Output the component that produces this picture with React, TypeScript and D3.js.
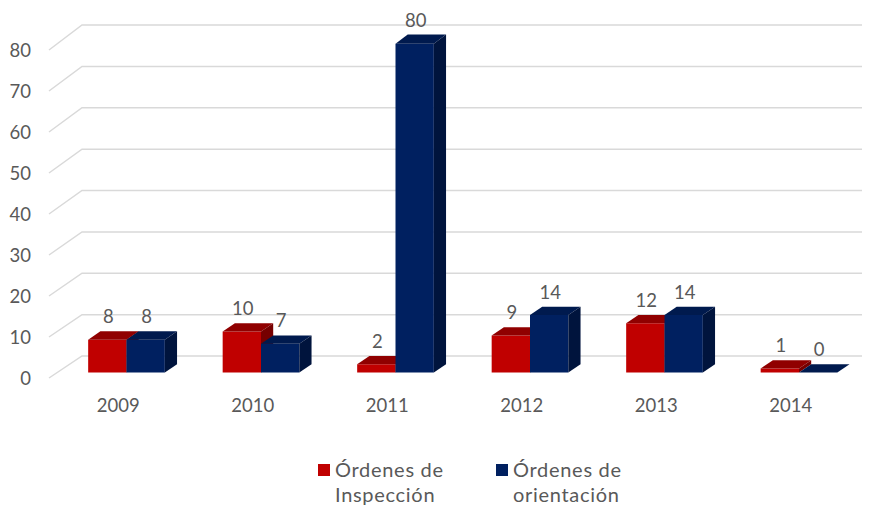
import React from 'react';
import * as d3 from 'd3';

const years = ['2009', '2010', '2011', '2012', '2013', '2014'];
const inspeccion = [8, 10, 2, 9, 12, 1];
const orientacion = [8, 7, 80, 14, 14, 0];
const seriesNames = ['Órdenes de Inspección', 'Órdenes de orientación'];
const yTicks = [0, 10, 20, 30, 40, 50, 60, 70, 80];

const width = 874;
const height = 510;
const font = 'Lato, "Open Sans", sans-serif';
const textColor = '#595959';

// colours per series: front, top, side
const palette = [
    { front: '#c00000', top: '#900000', side: '#760000' },
    { front: '#002060', top: '#001a4e', side: '#00143d' }
];

// depth of the 3d box and where the bars sit inside it
const depthX = 33;
const barNear = 0.25;
const barFar = 0.62;

const yFront = d3.scaleLinear().domain([0, 80]).range([378, 50]);
const yBack = d3.scaleLinear().domain([0, 80]).range([356, 25]);

const xBand = d3.scaleBand().domain(years).range([51, 858]).paddingInner(0.43).paddingOuter(0.215);
const xSeries = d3.scaleBand().domain(['0', '1']).range([0, xBand.bandwidth()]);

// project a point of the front plane to depth d (0 = front, 1 = back wall)
const project = (x: number, v: number, d: number): [number, number] => [
    x + depthX * d,
    yFront(v) + (yBack(v) - yFront(v)) * d
];

const poly = (pts: [number, number][]) => d3.line()(pts) + 'Z';

const Bar = ({ year, s, v }: { year: string; s: number; v: number }) => {
    const x0 = (xBand(year) || 0) + (xSeries(String(s)) || 0);
    const x1 = x0 + xSeries.bandwidth();
    const c = palette[s];
    const front = poly([project(x0, 0, barNear), project(x1, 0, barNear), project(x1, v, barNear), project(x0, v, barNear)]);
    const top = poly([project(x0, v, barNear), project(x1, v, barNear), project(x1, v, barFar), project(x0, v, barFar)]);
    const side = poly([project(x1, 0, barNear), project(x1, 0, barFar), project(x1, v, barFar), project(x1, v, barNear)]);
    const lx = (x0 + x1) / 2 + depthX * barNear + 1;
    const ly = project(x0, v, barFar)[1] - 8;
    return (
        <g>
            <path d={front} fill={c.front} />
            <path d={top} fill={c.top} />
            <path d={side} fill={c.side} />
            <text x={lx} y={ly} textAnchor="middle" fontSize={18.5} fill={textColor}>{v}</text>
        </g>
    );
};

const App = () => {
    const wallLeft = 49;
    const wallRight = 862;
    return (
        <svg width={width} height={height} style={{ position: 'absolute', left: 0, top: 0, background: '#fff' }}
            fontFamily={font}>
            <g className="grid" stroke="#d9d9d9" strokeWidth={1.5} fill="none">
                {yTicks.map(t => {
                    const a = project(wallLeft, t, 0);
                    const b = project(wallLeft, t, 1);
                    return <path key={t} d={d3.line()([a, b, [wallRight, b[1]]]) || ''} />;
                })}
            </g>
            <g className="y-axis">
                {yTicks.map(t => (
                    <text key={t} x={31} y={yFront(t) + 6.5} textAnchor="end" fontSize={18.5} fill={textColor}>{t}</text>
                ))}
            </g>
            <g className="bars">
                {years.map((y, i) => (
                    <g key={y}>
                        <Bar year={y} s={0} v={inspeccion[i]} />
                        <Bar year={y} s={1} v={orientacion[i]} />
                    </g>
                ))}
            </g>
            <g className="x-axis">
                {years.map(y => (
                    <text key={y} x={(xBand(y) || 0) + xBand.bandwidth() / 2} y={412} textAnchor="middle"
                        fontSize={18.5} fill={textColor}>{y}</text>
                ))}
            </g>
            <g className="legend" fontSize={20} letterSpacing={0.7} fill={textColor}>
                {seriesNames.map((name, i) => {
                    const lx = i === 0 ? 318 : 496;
                    const words = name.split(' ');
                    const line1 = words.slice(0, 2).join(' ');
                    const line2 = words.slice(2).join(' ');
                    return (
                        <g key={name}>
                            <rect x={lx} y={464} width={12} height={12} fill={palette[i].front} />
                            <text x={lx + 17} y={477}>{line1}</text>
                            <text x={lx + 17} y={502}>{line2}</text>
                        </g>
                    );
                })}
            </g>
        </svg>
    );
};

export default App;
